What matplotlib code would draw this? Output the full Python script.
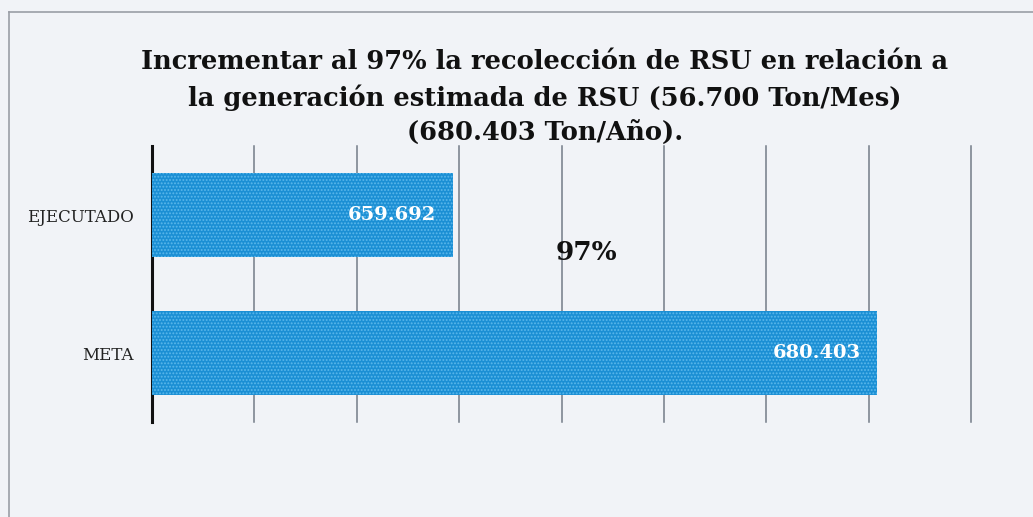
import matplotlib.pyplot as plt
from matplotlib.lines import Line2D

# data
categories = ["META", "EJECUTADO"]
values = [680.403, 659.692]
value_labels = ["680.403", "659.692"]
percent_label = "97%"
title = ("Incrementar al 97% la recolección de RSU en relación a\n"
         "la generación estimada de RSU (56.700 Ton/Mes)\n"
         "(680.403 Ton/Año).")

x_min, x_max = 645, 685
grid_ticks = [650, 655, 660, 665, 670, 675, 680, 685]

plt.rcParams['font.family'] = ['DejaVu Serif']
plt.rcParams['hatch.linewidth'] = 0.9

fig = plt.figure(figsize=(10.33, 5.17), dpi=100)
fig.patch.set_facecolor('#f1f3f7')

# chart frame (left and top edges visible in the scan)
fig.add_artist(Line2D([9 / 1033, 9 / 1033], [0, 1 - 12 / 517], color='#9a9ea6', lw=1.2))
fig.add_artist(Line2D([9 / 1033, 1], [1 - 12 / 517, 1 - 12 / 517], color='#9a9ea6', lw=1.2))

ax = fig.add_axes([152 / 1033, 1 - 422 / 517, (971 - 152) / 1033, (422 - 146) / 517])
ax.set_facecolor('none')

ypos = list(range(len(categories)))
bars = ax.barh(ypos, [v - x_min for v in values], left=x_min, height=0.61,
               color='#1b8fd4', edgecolor='#5cb8ec', hatch='.....', linewidth=0,
               zorder=3)

for i, v in enumerate(values):
    ax.text(v - 0.8, ypos[i], value_labels[i], ha='right', va='center',
            color='white', fontsize=14, fontweight='bold', zorder=4)

ax.text(666.2, 0.725, percent_label, ha='center', va='center',
        fontsize=19, fontweight='bold', color='#111111', zorder=4)

ax.set_xlim(x_min, x_max)
ax.set_ylim(-0.5, 1.5)
ax.set_xticks(grid_ticks)
ax.set_xticklabels([])
ax.tick_params(axis='x', length=0)
ax.grid(axis='x', color='#737b88', lw=1.1, zorder=0)
for gl in ax.get_xgridlines():
    gl.set_clip_on(False)
ax.set_yticks(ypos)
ax.set_yticklabels(categories, fontsize=12, color='#222222')
ax.tick_params(axis='y', length=0, pad=13)

for s in ['top', 'right', 'bottom']:
    ax.spines[s].set_visible(False)
ax.spines['left'].set_color('#111111')
ax.spines['left'].set_linewidth(2.2)

fig.text(545 / 1033, 1 - 97 / 517, title, ha='center', va='center',
         fontsize=18.5, fontweight='bold', color='#111111', linespacing=1.45)

fig.savefig("out.png", dpi=100, facecolor=fig.get_facecolor())
